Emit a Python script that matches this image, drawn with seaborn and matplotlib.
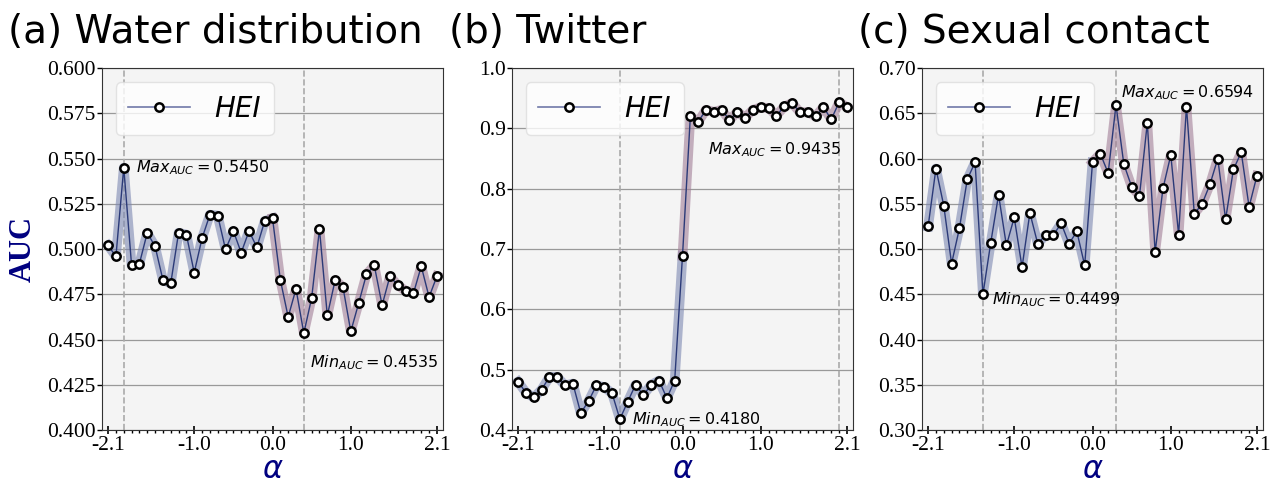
import numpy as np
import pandas as pd
import matplotlib
matplotlib.use('Agg')
import matplotlib.pyplot as plt
import seaborn as sns
from matplotlib.lines import Line2D
from matplotlib.ticker import FormatStrFormatter, MultipleLocator

# x values (alpha)
alphas = [-2.1, -2.0, -1.9, -1.8, -1.7, -1.6, -1.5, -1.4, -1.3, -1.2, -1.1,
          -1.0, -0.9, -0.8, -0.7, -0.6, -0.5, -0.4, -0.3, -0.2, -0.1, 0.0,
          0.1, 0.2, 0.3, 0.4, 0.5, 0.6, 0.7, 0.8, 0.9, 1.0, 1.1,
          1.2, 1.3, 1.4, 1.5, 1.6, 1.7, 1.8, 1.9, 2.0, 2.1]

# AUC values
water_auc = [0.502, 0.496, 0.5450, 0.491, 0.492, 0.509, 0.5015, 0.483, 0.481, 0.509, 0.508,
             0.487, 0.506, 0.519, 0.5185, 0.4998, 0.510, 0.498, 0.510, 0.501, 0.5155, 0.517,
             0.483, 0.4625, 0.478, 0.4535, 0.473, 0.511, 0.4633, 0.4828, 0.479, 0.4545, 0.470,
             0.486, 0.491, 0.469, 0.485, 0.480, 0.477, 0.4755, 0.4905, 0.4735, 0.485]
twitter_auc = [0.480, 0.462, 0.454, 0.467, 0.488, 0.488, 0.474, 0.477, 0.428, 0.448, 0.474,
               0.471, 0.461, 0.4180, 0.447, 0.475, 0.458, 0.475, 0.482, 0.453, 0.482, 0.689,
               0.920, 0.911, 0.931, 0.9275, 0.931, 0.914, 0.9275, 0.918, 0.931, 0.935, 0.934,
               0.9215, 0.9365, 0.942, 0.927, 0.927, 0.920, 0.9355, 0.915, 0.9435, 0.9355]
sexual_auc = [0.525, 0.589, 0.548, 0.484, 0.523, 0.577, 0.596, 0.4499, 0.507, 0.560, 0.504,
              0.535, 0.480, 0.540, 0.506, 0.5155, 0.5155, 0.5285, 0.506, 0.5195, 0.482, 0.596,
              0.6055, 0.584, 0.6594, 0.594, 0.569, 0.559, 0.6395, 0.4967, 0.567, 0.604, 0.516,
              0.6576, 0.539, 0.550, 0.5715, 0.600, 0.533, 0.588, 0.607, 0.5467, 0.581]

titles = ['(a) Water distribution', '(b) Twitter', '(c) Sexual contact']
series = [water_auc, twitter_auc, sexual_auc]
y_limits = [(0.400, 0.600), (0.4, 1.0), (0.30, 0.70)]
y_steps = [0.025, 0.1, 0.05]
y_formats = ['%.3f', '%.1f', '%.2f']
x_ticks = [-2.1, -1.0, 0.0, 1.0, 2.1]

# text placement of the max / min labels (data coords) and title x offsets
max_text_pos = [(-1.75, 0.545), (0.32, 0.865), (0.37, 0.673)]
min_text_pos = [(0.48, 0.437), (-0.65, 0.417), (-1.28, 0.4437)]
title_x = [-0.276, -0.185, -0.188]

# Colors
navy = '#000080'
line_color = '#2b3a78'
neg_band = '#7d88b2'
pos_band = '#a27e97'

plt.rcParams['axes.unicode_minus'] = False
plt.rcParams['mathtext.fontset'] = 'dejavusans'

fig, axes = plt.subplots(ncols=3, figsize=(12.75, 4.87), dpi=100, facecolor='w')
fig.subplots_adjust(left=0.080, right=0.9906, bottom=0.117, top=0.860, wspace=0.2023)

for i, (ax, auc) in enumerate(zip(axes, series)):
    df = pd.DataFrame({'alpha': alphas, 'auc': auc})
    ax.set_facecolor('#f4f4f4')
    ax.set_axisbelow(True)
    ax.yaxis.grid(True, color='#999999', lw=0.9)

    # Argmax / argmin reference lines
    imax = int(np.argmax(auc))
    imin = int(np.argmin(auc))
    for idx in (imax, imin):
        ax.axvline(alphas[idx], color='#aaaaaa', ls='--', lw=1.2, zorder=1)

    # Thick translucent bands (negative / positive alpha)
    sns.lineplot(ax=ax, data=df[df['alpha'] <= 0], x='alpha', y='auc', color=neg_band,
                 lw=7, alpha=0.6, zorder=2, legend=False)
    sns.lineplot(ax=ax, data=df[df['alpha'] >= 0], x='alpha', y='auc', color=pos_band,
                 lw=7, alpha=0.6, zorder=2, legend=False)
    # Thin line with markers
    sns.lineplot(ax=ax, data=df, x='alpha', y='auc', color=line_color, lw=1,
                 marker='o', markersize=6, markerfacecolor='white', markeredgecolor='black',
                 markeredgewidth=1.8, zorder=3, legend=False)

    ax.text(*max_text_pos[i], '$Max_{{AUC}}={:.4f}$'.format(auc[imax]), fontsize=11.5,
            va='center', ha='left')
    ax.text(*min_text_pos[i], '$Min_{{AUC}}={:.4f}$'.format(auc[imin]), fontsize=11.5,
            va='center', ha='left')

    ax.set_xlim(-2.178, 2.178)
    ax.set_ylim(*y_limits[i])
    ax.yaxis.set_major_locator(MultipleLocator(y_steps[i]))
    ax.yaxis.set_major_formatter(FormatStrFormatter(y_formats[i]))
    ax.set_xticks(x_ticks)
    ax.xaxis.set_major_formatter(FormatStrFormatter('%.1f'))
    ax.xaxis.set_minor_locator(MultipleLocator(0.1))
    ax.tick_params(axis='x', which='major', direction='inout', length=6, width=1.2)
    ax.tick_params(axis='x', which='minor', direction='out', length=2.5, width=1)
    ax.tick_params(axis='y', which='major', direction='out', length=3.5, width=1)
    ax.tick_params(labelsize=15.5, labelfontfamily='Liberation Serif', pad=1)
    for spine in ax.spines.values():
        spine.set_color('#333333')

    ax.set_xlabel(r'$\alpha$', fontsize=22, color=navy, labelpad=0)
    ax.set_ylabel('')

    ax.text(title_x[i], 1.069, titles[i], transform=ax.transAxes, fontsize=28,
            ha='left', va='baseline')

    handle = Line2D([], [], color='#7078a8', lw=1.2, marker='o', markersize=6,
                    markerfacecolor='white', markeredgecolor='black', markeredgewidth=1.8)
    leg = ax.legend([handle], ['HEI'], loc='upper left', prop={'style': 'italic', 'size': 20},
                    handlelength=2.2, handletextpad=0.9, borderaxespad=0.5, borderpad=0.45,
                    framealpha=0.8, fancybox=True)
    leg.get_frame().set_edgecolor('#dddddd')

axes[0].set_ylabel('AUC', fontsize=22, fontweight='bold', family='Liberation Serif', color=navy)
axes[0].yaxis.set_label_coords(-0.188, 0.5)

plt.savefig('out.png', dpi=100)
